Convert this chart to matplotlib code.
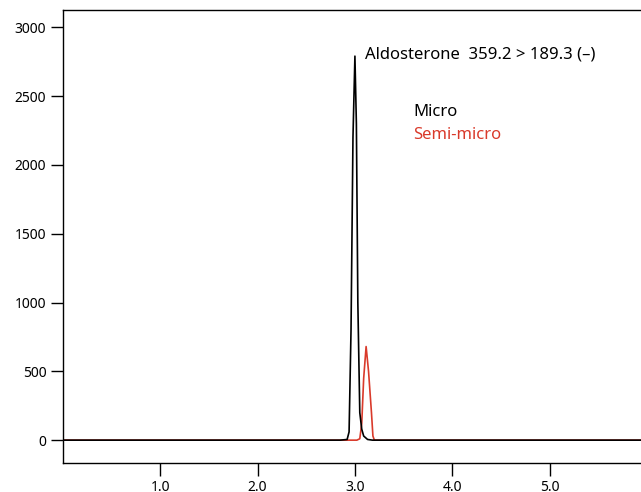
import matplotlib
matplotlib.use("Agg")
import matplotlib.pyplot as plt

plt.rcParams['font.family'] = ['Noto Sans', 'DejaVu Sans']

micro_t = [0.0, 2.85, 2.92, 2.94, 2.96, 2.98, 3.0, 3.015, 3.03, 3.05, 3.07, 3.09, 3.13, 3.18, 5.95]
micro_y = [0, 0, 5, 60, 800, 2200, 2790, 2300, 1000, 200, 80, 30, 5, 0, 0]
semi_t = [0.0, 3.02, 3.05, 3.07, 3.09, 3.115, 3.14, 3.17, 3.185, 3.2, 5.95]
semi_y = [0, 0, 10, 120, 450, 680, 500, 200, 30, 0, 0]
xticks = [1.0, 2.0, 3.0, 4.0, 5.0]
yticks = [0, 500, 1000, 1500, 2000, 2500, 3000]

fig = plt.figure(figsize=(6.41, 4.92), dpi=100)
ax = fig.add_axes([63/641, 29/492, 1 - 63/641, (463-10)/492])
ax.plot(semi_t, semi_y, color='#d93a2b', lw=1.2)
ax.plot(micro_t, micro_y, color='black', lw=1.2)
ax.set_xlim(0.0, 5.94)
ax.set_ylim(-166, 3125)
ax.set_xticks(xticks)
ax.set_xticklabels([f"{v:.1f}" for v in xticks])
ax.set_yticks(yticks)
ax.spines['right'].set_visible(False)
for s in ['left', 'bottom', 'top']:
    ax.spines[s].set_linewidth(1.0)
ax.tick_params(direction='out', length=9, width=1, labelsize=10, pad=3)
ax.text(3.1, 2800, "Aldosterone  359.2 > 189.3 (–)", fontsize=12, va='center', ha='left')
ax.text(3.6, 2385, "Micro", fontsize=12, va='center', color='black')
ax.text(3.6, 2215, "Semi-micro", fontsize=12, va='center', color='#d93a2b')
fig.savefig("out.png", dpi=100)
